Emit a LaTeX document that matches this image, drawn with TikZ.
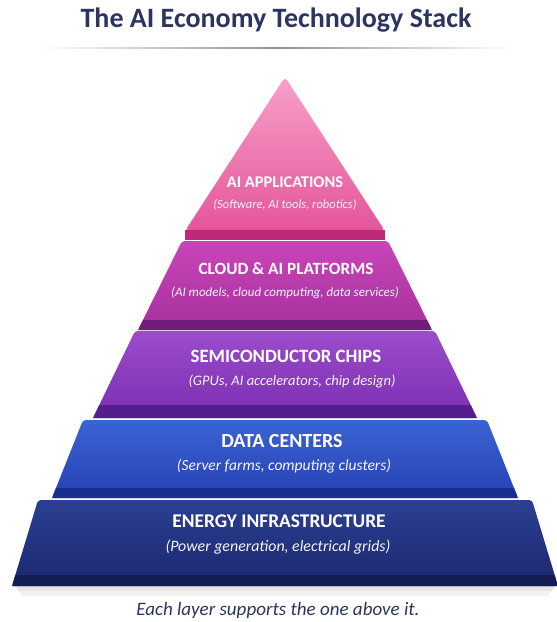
\documentclass[tikz,border=0pt]{standalone}
\usepackage{fontspec}
\setmainfont{Carlito}
\definecolor{navy}{HTML}{2C3560}
\definecolor{pinkA}{HTML}{F7A0C8}
\definecolor{pinkB}{HTML}{E5559A}
\definecolor{pinkBand}{HTML}{BE2A76}
\definecolor{cloudA}{HTML}{C945B8}
\definecolor{cloudB}{HTML}{A6309E}
\definecolor{cloudBand}{HTML}{731C7E}
\definecolor{semiA}{HTML}{9C4CCB}
\definecolor{semiB}{HTML}{7A2EB2}
\definecolor{semiBand}{HTML}{561E8C}
\definecolor{dataA}{HTML}{3B63D4}
\definecolor{dataB}{HTML}{2542B2}
\definecolor{dataBand}{HTML}{1A2E92}
\definecolor{enA}{HTML}{2B3F92}
\definecolor{enB}{HTML}{1C286F}
\definecolor{enBand}{HTML}{141C55}
\tikzset{
  titletext/.style={font=\fontsize{28}{32}\selectfont\bfseries, text=navy},
  layerhead/.style={font=\fontsize{#1}{#1}\selectfont\bfseries, text=white},
  layersub/.style={font=\fontsize{#1}{#1}\selectfont\itshape, text=white!92!gray},
  foottext/.style={font=\fontsize{19}{22}\selectfont\itshape, text=navy},
}
\begin{document}
\begin{tikzpicture}[x=1pt,y=-1pt]
\useasboundingbox (0,0) rectangle (557,622);
\fill[white] (0,0) rectangle (557,622);
% title
\node[titletext] (title) at (276,20) {The AI Economy Technology Stack};
\shade[left color=white, right color=white, middle color=navy!55] (40,47.3) rectangle (515,48.8);
% soft shadow under base
\fill[black, opacity=0.05] (16,586) -- (554,586) -- (548,596) -- (22,596) -- cycle;
\fill[black, opacity=0.05] (14,586) -- (556,586) -- (552,591) -- (18,591) -- cycle;
% energy
\shade[top color=enA, bottom color=enB, rounded corners=3pt] (12,586) -- (38,500) -- (532,500) -- (558,586) -- cycle;
\fill[enBand] (12,586) -- (15.4,575) -- (554.6,575) -- (558,586) -- cycle;
% data centers
\shade[top color=dataA, bottom color=dataB, rounded corners=3pt] (52,498) -- (83,420) -- (487,420) -- (518,498) -- cycle;
\fill[dataBand] (52,498) -- (56,488) -- (514,488) -- (518,498) -- cycle;
% semiconductor
\shade[top color=semiA, bottom color=semiB, rounded corners=3pt] (93,418) -- (135,331) -- (435,331) -- (477,418) -- cycle;
\fill[semiBand] (93,418) -- (99.3,405) -- (470.7,405) -- (477,418) -- cycle;
% cloud
\shade[top color=cloudA, bottom color=cloudB, rounded corners=3pt] (138,330) -- (182,241) -- (388,241) -- (432,330) -- cycle;
\fill[cloudBand] (138,330) -- (143,320) -- (427,320) -- (432,330) -- cycle;
% top triangle
\shade[top color=pinkA, bottom color=pinkB, rounded corners=4pt] (285,77) -- (385,231) -- (185,231) -- cycle;
\fill[pinkBand] (185,230) rectangle (385,240);
% labels
\node[layerhead=16.4] (apph) at (285,182) {AI APPLICATIONS};
\node[layersub=12.5] (apps) at (285,205) {(Software, AI tools, robotics)};
\node[layerhead=17.2] (cloudh) at (286,269) {CLOUD \& AI PLATFORMS};
\node[layersub=13] (clouds) at (285,293) {(AI models, cloud computing, data services)};
\node[layerhead=18.8] (semih) at (286,356) {SEMICONDUCTOR CHIPS};
\node[layersub=14.5] (semis) at (292,381) {(GPUs, AI accelerators, chip design)};
\node[layerhead=20] (datah) at (282,441) {DATA CENTERS};
\node[layersub=15.5] (datas) at (284,466) {(Server farms, computing clusters)};
\node[layerhead=19.4] (enh) at (279,521) {ENERGY INFRASTRUCTURE};
\node[layersub=15.9] (ens) at (278,547) {(Power generation, electrical grids)};
% footer
\node[foottext] (foot) at (278,610) {Each layer supports the one above it.};
\end{tikzpicture}
\end{document}
